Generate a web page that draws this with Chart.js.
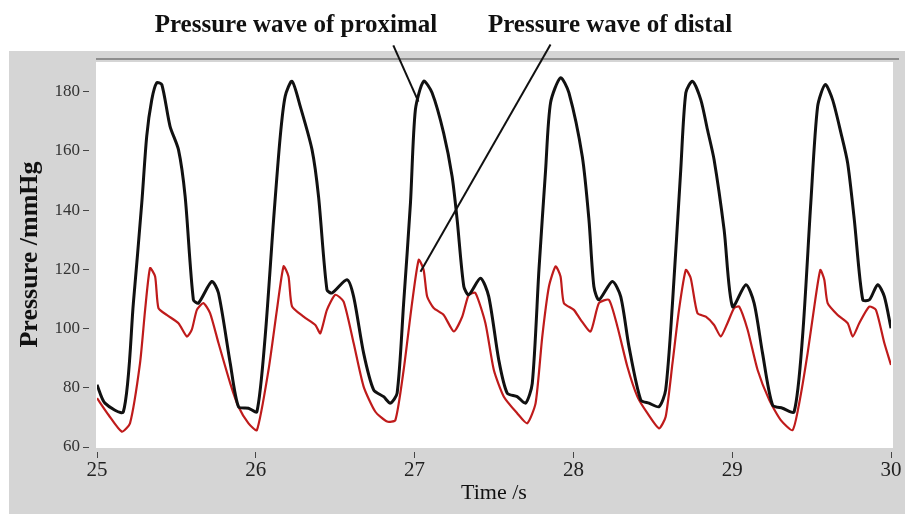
<!DOCTYPE html>
<html><head><meta charset="utf-8">
<script src="https://cdn.jsdelivr.net/npm/chart.js@4.4.1/dist/chart.umd.min.js"></script>
<style>html,body{margin:0;padding:0;background:#fff;overflow:hidden}canvas{display:block}</style>
</head><body>
<canvas id="c" width="905" height="514"></canvas>
<script>
// ---- data (time in s, pressure in mmHg) ----
const proximalTime = [25.0,25.05,25.166,25.229,25.282,25.313,25.345,25.376,25.408,25.46,25.513,25.555,25.607,25.639,25.723,25.765,25.839,25.891,25.954,26.007,
26.059,26.112,26.154,26.185,26.228,26.28,26.354,26.395,26.448,26.48,26.574,26.616,26.679,26.742,26.805,26.847,26.89,26.931,26.974,27.005,
27.057,27.11,27.183,27.236,27.268,27.31,27.341,27.415,27.467,27.53,27.583,27.646,27.699,27.741,27.783,27.825,27.856,
27.919,27.972,28.056,28.098,28.129,28.161,28.245,28.298,28.35,28.424,28.476,28.539,28.581,28.624,28.676,28.708,
28.75,28.802,28.844,28.886,28.949,29.002,29.086,29.138,29.191,29.254,29.317,29.39,29.443,29.495,29.538,
29.586,29.632,29.685,29.727,29.769,29.822,29.864,29.916,29.958,30.0];
const proximalPressure = [81,74.8,71.9,108.6,142.4,164.9,177.3,183,182.4,168.3,160.4,144.6,109.7,108.6,115.9,112,88.3,73.6,73.1,71.9,
97.3,136.7,164.9,178.4,183.5,175,160.4,144.6,113.1,112,116.5,110.8,91.7,79.3,77,74.8,78.2,108.6,142.4,173.9,
183.5,179.6,166,151.4,136.7,114.2,111.4,117,110.8,89.4,78.2,77,74.8,81.5,119.8,153.6,176.2,
184.7,179.6,158.1,136.7,114.2,109.7,115.9,110.8,93.9,75.9,74.8,73.6,79.3,108.6,153.6,179.6,
183.5,177.3,167.2,157,133.4,107.4,114.8,108.6,91.7,74.2,73.1,71.9,97.3,142.4,175,
182.4,177.3,166,155.9,136.7,109.7,109.7,114.8,110.8,100.1];
const distalTime = [25.0,25.073,25.156,25.208,25.271,25.303,25.334,25.366,25.387,25.439,25.513,25.566,25.597,25.629,25.67,25.712,25.765,25.839,25.891,25.954,26.007,
26.08,26.133,26.175,26.206,26.228,26.301,26.375,26.406,26.448,26.501,26.553,26.616,26.679,26.753,26.827,26.879,26.931,26.984,27.026,
27.057,27.079,27.12,27.183,27.247,27.3,27.341,27.383,27.446,27.499,27.562,27.646,27.709,27.762,27.804,27.846,27.888,
27.919,27.94,28.003,28.045,28.108,28.161,28.224,28.277,28.34,28.403,28.466,28.539,28.581,28.624,28.665,28.708,
28.739,28.781,28.834,28.886,28.928,28.97,29.012,29.044,29.097,29.16,29.233,29.306,29.38,29.422,29.475,29.517,29.555,
29.58,29.601,29.664,29.727,29.759,29.8,29.863,29.905,29.958,30.0];
const distalPressure = [76.5,70.8,65.2,68,88.3,106.3,120.4,117.6,106.9,104.6,101.8,97.3,99.6,106.3,108.6,105.2,95.1,81.5,73.6,68,65.7,
86,106.3,121,117.6,107.5,104,101.2,98.4,106.3,111.4,109.1,95.1,80.4,71.9,68.6,69.1,86,108.6,123.2,
119.8,110.8,106.9,104.6,99,104,111.4,112,101.8,86,77,71.4,68,74.8,97.3,114.2,121,
117.6,108.6,106.3,103,99,108.6,109.7,100.7,87.1,77,71.4,66.3,70.2,88.3,106.3,119.8,
117,105.2,104,101.2,97.3,101.8,106.9,107.4,99.6,86,75.9,69.1,65.7,74.8,91.7,107.4,119.8,
116.5,108.6,104.6,101.8,97.3,101.8,107.4,106.3,95.1,87.7];
const xTickValues = [25,26,27,28,29,30];
const yTickValues = [60,80,100,120,140,160,180];
const seriesNames = ['Pressure wave of proximal','Pressure wave of distal'];
const xTitle = 'Time /s';
const yTitle = 'Pressure /mmHg';
// leader lines for the annotations: [time, pressure] from label to curve
const proximalLeader = [[26.866,195.6],[27.024,176.6]];
const distalLeader = [[27.856,195.9],[27.037,119.2]];

const toPts = (xs, ys) => xs.map((x, i) => ({x, y: ys[i]}));

const panelPlugin = {
  id: 'panel',
  beforeDraw(chart) {
    const ctx = chart.ctx, a = chart.chartArea;
    ctx.save();
    ctx.fillStyle = '#ffffff'; ctx.fillRect(0, 0, chart.width, chart.height);
    ctx.fillStyle = '#d5d5d5'; ctx.fillRect(9, 51, chart.width - 9, chart.height - 51);
    ctx.fillStyle = '#ffffff'; ctx.fillRect(a.left - 1, a.top, a.right - a.left + 3, a.bottom - a.top + 1);
    ctx.strokeStyle = '#8e8e8e'; ctx.lineWidth = 2;
    ctx.beginPath(); ctx.moveTo(a.left - 1, a.top - 3); ctx.lineTo(chart.width - 6, a.top - 3); ctx.stroke();
    ctx.restore();
  },
  afterDraw(chart) {
    const ctx = chart.ctx, xs = chart.scales.x, ys = chart.scales.y;
    ctx.save();
    ctx.strokeStyle = '#111'; ctx.lineWidth = 2;
    [proximalLeader, distalLeader].forEach(l => {
      ctx.beginPath();
      ctx.moveTo(xs.getPixelForValue(l[0][0]), ys.getPixelForValue(l[0][1]));
      ctx.lineTo(xs.getPixelForValue(l[1][0]), ys.getPixelForValue(l[1][1]));
      ctx.stroke();
    });
    ctx.fillStyle = '#111';
    ctx.font = 'bold 25px "Liberation Serif"';
    ctx.textAlign = 'center'; ctx.textBaseline = 'alphabetic';
    ctx.fillText(seriesNames[0], 296, 32);
    ctx.fillText(seriesNames[1], 610, 32);
    ctx.restore();
  }
};

new Chart(document.getElementById('c'), {
  type: 'line',
  data: {
    datasets: [
      {label: seriesNames[0], data: toPts(proximalTime, proximalPressure), borderColor: '#111111', borderWidth: 3, pointRadius: 0, tension: 0.25},
      {label: seriesNames[1], data: toPts(distalTime, distalPressure), borderColor: '#bf1b1b', borderWidth: 2.2, pointRadius: 0, tension: 0.2}
    ]
  },
  options: {
    responsive: false, animation: false, devicePixelRatio: 1,
    layout: {padding: {top: 62, right: 14, bottom: 0, left: 0}},
    plugins: {legend: {display: false}, tooltip: {enabled: false}},
    scales: {
      x: {
        type: 'linear', min: 25, max: 30,
        afterBuildTicks: s => { s.ticks = xTickValues.map(v => ({value: v})); },
        afterFit: s => { s.height = 67; },
        border: {display: false},
        grid: {drawOnChartArea: false, tickLength: 11, tickColor: '#444', tickWidth: 1, tickBorderDash: [6, 5], tickBorderDashOffset: 6},
        ticks: {color: '#222', font: {family: '"Liberation Serif"', size: 21}, padding: 0, maxRotation: 0},
        title: {display: true, text: xTitle, color: '#111', font: {family: '"Liberation Serif"', size: 22}, padding: {top: 0, bottom: 8}}
      },
      y: {
        min: 60, max: 190,
        afterBuildTicks: s => { s.ticks = yTickValues.map(v => ({value: v})); },
        afterFit: s => { s.width = 97; },
        border: {display: false},
        grid: {drawOnChartArea: false, tickLength: 14, tickColor: '#444', tickWidth: 1, tickBorderDash: [6, 20]},
        ticks: {color: '#333', font: {family: '"Liberation Serif"', size: 17}, padding: 3},
        title: {display: true, text: yTitle, color: '#111', font: {family: '"Liberation Serif"', size: 26, weight: 'bold'}, padding: {top: 15, bottom: 0}}
      }
    }
  },
  plugins: [panelPlugin]
});
</script>
</body></html>
